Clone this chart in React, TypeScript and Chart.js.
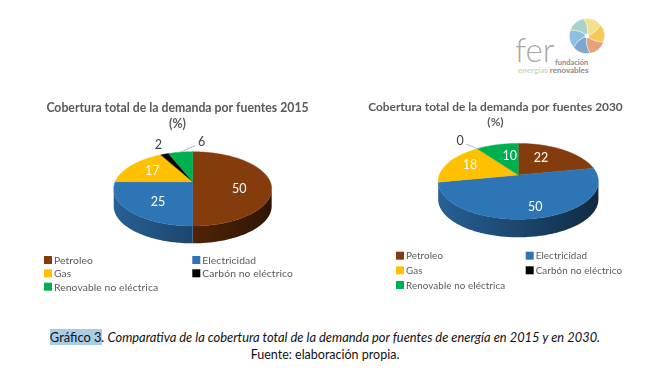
import React, { useEffect, useRef } from "react";
import { Chart, registerables } from "chart.js";

Chart.register(...registerables);

const categories = ["Petroleo", "Electricidad", "Gas", "Carbón no eléctrico", "Renovable no eléctrica"];
const values2015 = [50, 25, 17, 2, 6];
const values2030 = [22, 50, 18, 0, 10];
const colors = ["#843c0c", "#2e75b6", "#ffc000", "#000000", "#00b050"];
const titleLines2015 = ["Cobertura total de la demanda por fuentes 2015", "(%)"];
const titleLines2030 = ["Cobertura total de la demanda por fuentes 2030", "(%)"];

const FONT = "Lato, 'Open Sans', sans-serif";

function shade(hex: string, f: number) {
  const n = parseInt(hex.slice(1), 16);
  return `rgb(${((n >> 16) & 255) * f},${((n >> 8) & 255) * f},${(n & 255) * f})`;
}

const pie3d = {
  id: "pie3d",
  beforeDatasetsDraw(chart: any, _a: any, o: any) {
    const ctx = chart.ctx;
    const arcs = chart.getDatasetMeta(0).data;
    const values = chart.data.datasets[0].data;
    const bg = chart.data.datasets[0].backgroundColor;
    const R = arcs[0].outerRadius;
    const { cx, cy, yScale: A, persp: p, depth } = o;
    const proj = (a: number, r = 1) => {
      const u = r * Math.cos(a), v = r * Math.sin(a), d = 1 - p * v;
      return [cx + (R * u) / d, cy + (A * v) / d];
    };
    const STEP = Math.PI / 180;
    const lo = Math.asin(p);
    const front0 = lo, front1 = Math.PI - lo;
    const grad = (c: string) => {
      const g = ctx.createLinearGradient(cx - R, 0, cx + R, 0);
      g.addColorStop(0, shade(c, 0.82));
      g.addColorStop(0.5, shade(c, 0.6));
      g.addColorStop(1, shade(c, 0.36));
      return g;
    };
    ctx.save();
    // side wall
    arcs.forEach((arc: any, i: number) => {
      const norm = (x: number) => (x + Math.PI / 2 + Math.PI * 2) % (Math.PI * 2) - Math.PI / 2;
      if (arc.endAngle - arc.startAngle < 1e-6) return;
      const s = norm(arc.startAngle);
      const e = s + (arc.endAngle - arc.startAngle);
      const a0 = Math.max(s, front0), a1 = Math.min(e, front1);
      if (a1 <= a0) return;
      const pts: number[][] = [];
      for (let a = a0; a < a1; a += STEP) pts.push(proj(a));
      pts.push(proj(a1));
      ctx.beginPath();
      pts.forEach((q, k) => (k ? ctx.lineTo(q[0], q[1]) : ctx.moveTo(q[0], q[1])));
      [...pts].reverse().forEach((q) => ctx.lineTo(q[0], q[1] + depth));
      ctx.closePath();
      ctx.fillStyle = grad(bg[i]);
      ctx.fill();
    });
    // top face
    arcs.forEach((arc: any, i: number) => {
      if (arc.endAngle - arc.startAngle < 1e-6) return;
      ctx.beginPath();
      ctx.moveTo(cx, cy);
      for (let a = arc.startAngle; a < arc.endAngle; a += STEP) {
        const q = proj(a);
        ctx.lineTo(q[0], q[1]);
      }
      const q = proj(arc.endAngle);
      ctx.lineTo(q[0], q[1]);
      ctx.closePath();
      ctx.fillStyle = bg[i];
      ctx.strokeStyle = bg[i];
      ctx.lineWidth = 0.4;
      ctx.fill();
      ctx.stroke();
    });
    // value labels and leaders
    ctx.textAlign = "center";
    ctx.textBaseline = "middle";
    ctx.font = `${o.labelSize}px ${FONT}`;
    arcs.forEach((arc: any, i: number) => {
      const mid = (arc.startAngle + arc.endAngle) / 2;
      const lab = o.labels[i];
      const q = proj(mid, lab.r);
      const x = q[0] + lab.dx, y = q[1] + lab.dy;
      if (lab.leader) {
        const e = proj(mid);
        ctx.beginPath();
        ctx.moveTo(e[0], e[1]);
        ctx.lineTo(x + lab.leader[0], y + lab.leader[1]);
        ctx.strokeStyle = "#a6a6a6";
        ctx.lineWidth = 0.8;
        ctx.stroke();
      }
      ctx.fillStyle = lab.r > 1 ? "#404040" : "#ffffff";
      ctx.fillText(String(values[i]), x, y);
    });
    // legend
    ctx.textAlign = "left";
    ctx.font = `${o.legend.size}px ${FONT}`;
    (ctx as any).letterSpacing = o.legend.spacing + "px";
    chart.data.labels.forEach((t: string, i: number) => {
      const col = i % 2, row = Math.floor(i / 2);
      const x = o.legend.x[col], y = o.legend.y[row];
      ctx.fillStyle = bg[i];
      ctx.fillRect(x, y - 4, 8, 8);
      ctx.fillStyle = "#595959";
      ctx.fillText(t, x + 10, y + 0.5);
    });
    ctx.restore();
    return false;
  },
};

function Pie(props: { left: number; width: number; values: number[]; title: string[]; size: number; line: number; top: number; cfg: any; radius: number }) {
  const ref = useRef<HTMLCanvasElement>(null);
  useEffect(() => {
    const chart = new Chart(ref.current!, {
      type: "doughnut",
      data: {
        labels: categories,
        datasets: [{ data: props.values, backgroundColor: colors, borderWidth: 0, radius: props.radius, cutout: 0 } as any],
      },
      options: {
        responsive: false,
        animation: false,
        devicePixelRatio: 1,
        plugins: {
          legend: { display: false },
          tooltip: { enabled: false },
          title: {
            display: true,
            text: props.title,
            color: "#595959",
            font: { family: FONT, size: props.size, weight: "bold", lineHeight: props.line },
            padding: { top: props.top, bottom: 0 },
          },
          pie3d: props.cfg,
        },
      } as any,
      plugins: [pie3d],
    });
    return () => chart.destroy();
  }, []);
  return <canvas ref={ref} width={props.width} height={220} style={{ position: "absolute", left: props.left, top: 90, width: props.width, height: 220 }} />;
}

const cfg2015 = {
  cx: 192.7, cy: 91.7, yScale: 35.8, persp: 0.193, depth: 17.3, labelSize: 12.5,
  labels: [
    { r: 0.6, dx: 0, dy: 7 },
    { r: 0.6, dx: 1, dy: 3.5 },
    { r: 0.6, dx: -2.6, dy: -0.7 },
    { r: 1.15, dx: -2.8, dy: -5.7 },
    { r: 1.15, dx: 22.7, dy: -6.2, leader: [-6, 3] },
  ],
  legend: { size: 10.3, spacing: 0.1, x: [44, 192.3], y: [170, 183.3, 196.7] },
};
const cfg2030 = {
  cx: 182.3, cy: 85, yScale: 36.9, persp: 0.167, depth: 18, labelSize: 12.5,
  labels: [
    { r: 0.6, dx: -5.3, dy: -1.5 },
    { r: 0.6, dx: 7, dy: 7.6 },
    { r: 0.6, dx: -5.8, dy: -1.8 },
    { r: 1.15, dx: -12, dy: -4.3, leader: [6, 3] },
    { r: 0.6, dx: 4.8, dy: 0 },
  ],
  legend: { size: 9.8, spacing: 0.1, x: [60, 189.7], y: [165.7, 180.3, 195] },
};

function Logo() {
  const blades = [
    ["#f3e08a", 20], ["#f4c95a", 80], ["#e3a27c", 140], ["#7ea6cf", 200], ["#8dbfe0", 260], ["#a9d3c6", 320],
  ] as const;
  return (
    <>
      <svg width="40" height="40" style={{ position: "absolute", left: 567, top: 16, filter: "blur(0.7px)" }} viewBox="-20 -20 40 40">
        {blades.map(([c, r]) => (
          <path key={r} d="M0,0 Q-1,-9 -8.8,-15.2 A17.6,17.6 0 0 1 8.8,-15.2 Q7.3,-5.4 0,0 Z" fill={c} stroke="#fff" strokeWidth="0.4" transform={`rotate(${r})`} />
        ))}
        <circle r="2.4" fill="#fff" />
      </svg>
      <div style={{ position: "absolute", left: 515, top: 31, font: `300 33px ${FONT}`, color: "#a8a8a8", lineHeight: "36px" }}>fer</div>
      <div style={{ position: "absolute", left: 555, top: 58, font: `bold 7.5px ${FONT}`, color: "#8a8a8a", lineHeight: "9px" }}>fundación</div>
      <div style={{ position: "absolute", left: 518, top: 66, font: `bold 8px ${FONT}`, color: "#c9d8c4", lineHeight: "9px", whiteSpace: "nowrap" }}>
        energías <span style={{ color: "#8a8a8a" }}>renovables</span>
      </div>
    </>
  );
}

export default function App() {
  return (
    <div style={{ position: "fixed", left: 0, top: 0, width: 672, height: 376, background: "#fff", overflow: "hidden", filter: "blur(0.35px)" }}>
      <Logo />
      <Pie left={0} width={355} values={values2015} title={titleLines2015} size={12.25} line={1.33} top={10} cfg={cfg2015} radius={77.5} />
      <Pie left={336} width={319} values={values2030} title={titleLines2030} size={11.9} line={1.31} top={9} cfg={cfg2030} radius={79} />
      <div style={{ position: "absolute", left: 0, width: 650, top: 329, textAlign: "center", color: "#111", lineHeight: "17px", whiteSpace: "nowrap", fontFamily: FONT }}>
        <div style={{ fontSize: 12.9 }}>
          <span style={{ background: "#a9cde6" }}>Gráfico 3</span>
          <i>. Comparativa de la cobertura total de la demanda por fuentes de energía en 2015 y en 2030.</i>
        </div>
        <div style={{ fontSize: 12.5 }}>Fuente: elaboración propia.</div>
      </div>
    </div>
  );
}
